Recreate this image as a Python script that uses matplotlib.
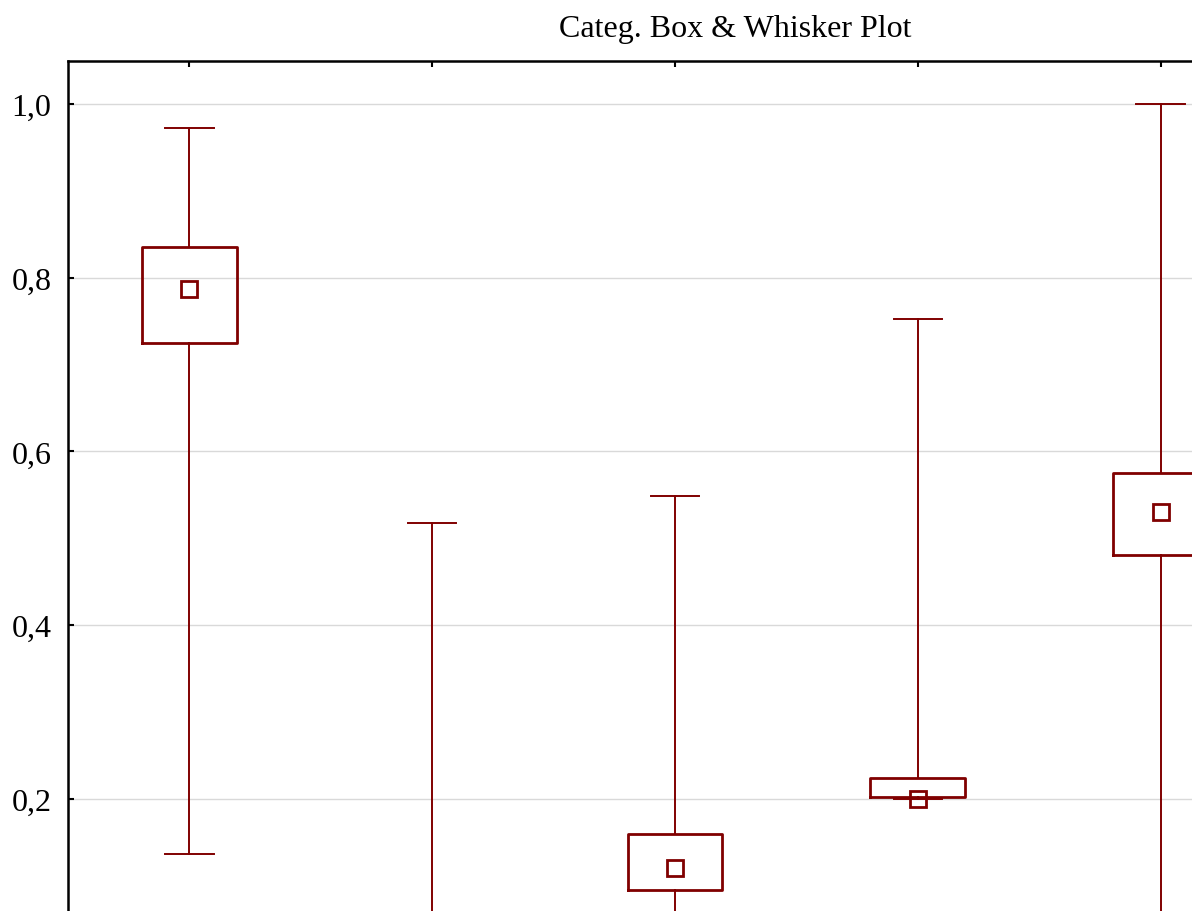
import matplotlib
matplotlib.use("Agg")
import matplotlib.pyplot as plt
from matplotlib.ticker import FuncFormatter

# five categories (lower parts of some are out of view)
positions = [1, 2, 3, 4, 5]
medians = [0.787, 0.040, 0.120, 0.200, 0.530]
q1 = [0.725, 0.020, 0.095, 0.2015, 0.481]
q3 = [0.835, 0.060, 0.1595, 0.2245, 0.575]
whis_lo = [0.136, 0.000, 0.000, 0.200, 0.000]
whis_hi = [0.972, 0.517, 0.549, 0.753, 1.000]
y_ticks = [0.2, 0.4, 0.6, 0.8, 1.0]

RED = "#800000"

plt.rcParams["font.family"] = ["Liberation Serif", "DejaVu Serif"]

fig = plt.figure(figsize=(11.92, 9.12), dpi=100)
# axes runs past the right and bottom edges of the picture (cropped view)
ax = fig.add_axes([68 / 1192, -61.5 / 912, 1214 / 1192, 911.5 / 912])

stats = []
for i in range(len(positions)):
    stats.append(dict(med=medians[i], q1=q1[i], q3=q3[i],
                      whislo=whis_lo[i], whishi=whis_hi[i], mean=medians[i]))

ax.bxp(stats, positions=positions, widths=0.39, capwidths=0.2,
       showmeans=True, showfliers=False,
       boxprops=dict(color=RED, lw=2.0),
       whiskerprops=dict(color=RED, lw=1.4),
       capprops=dict(color=RED, lw=1.4),
       medianprops=dict(visible=False),
       meanprops=dict(marker="s", markersize=11, markerfacecolor="none",
                      markeredgecolor=RED, markeredgewidth=2.0))

ax.set_xlim(0.5, 5.5)
ax.set_ylim(0, 1.0495)
ax.set_yticks(y_ticks)
ax.yaxis.set_major_formatter(FuncFormatter(lambda v, _: f"{v:.1f}".replace(".", ",")))
ax.set_xticks(positions)
ax.tick_params(axis="x", which="both", bottom=False, top=True, labelbottom=False,
               direction="in", length=4, width=1.5)
ax.tick_params(axis="y", direction="in", length=4, width=1.5, labelsize=23, pad=12)
ax.grid(axis="y", color="#d9d9d9", lw=1)
ax.set_axisbelow(True)
for s in ax.spines.values():
    s.set_linewidth(1.8)

fig.text(735 / 1192, 1 - 29 / 912, "Categ. Box & Whisker Plot",
         ha="center", va="center", fontsize=23)

fig.savefig("out.png", dpi=100)
